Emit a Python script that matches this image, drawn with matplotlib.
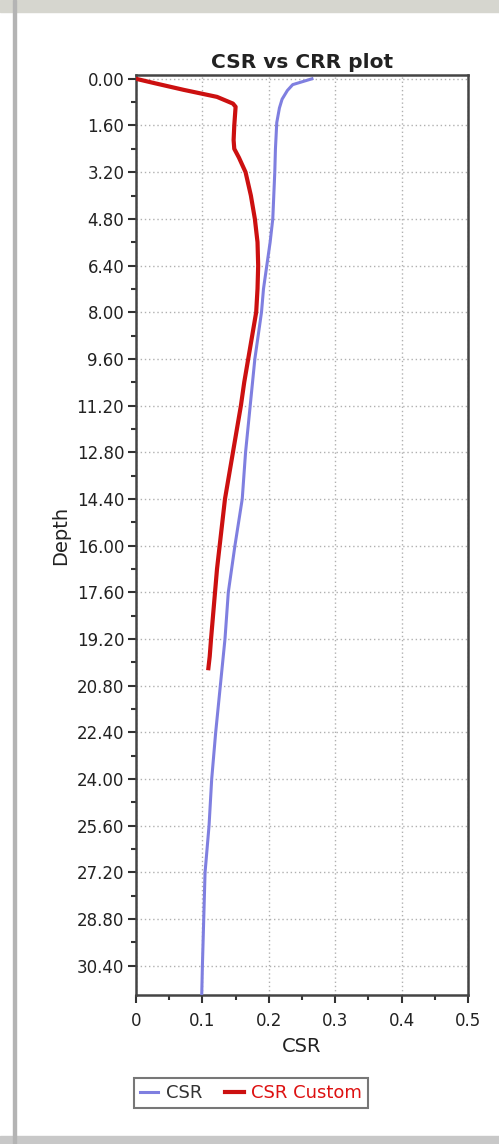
# -*- coding:utf-8 -*-

import numpy
import matplotlib
matplotlib.use("Agg")
import matplotlib.pyplot as plt
from matplotlib.patches import Rectangle

# Data
csr_depth = [0, 0.2, 0.4, 0.7, 1.0, 1.5, 2.4, 3.2, 4.8, 5.6, 6.4, 7.2, 8.0,
             9.6, 11.2, 12.8, 14.4, 16.0, 17.6, 19.2, 20.8, 22.4, 24.0, 25.6,
             27.2, 28.8, 30.4, 31.4]
csr_values = [0.265, 0.236, 0.228, 0.220, 0.216, 0.212, 0.210, 0.209, 0.206,
              0.202, 0.197, 0.192, 0.189, 0.179, 0.172, 0.165, 0.160, 0.149,
              0.139, 0.134, 0.127, 0.120, 0.114, 0.110, 0.104, 0.102, 0.100,
              0.099]

custom_depth = [0, 0.14, 0.38, 0.62, 0.85, 0.96, 1.6, 2.1, 2.4, 2.7, 3.2, 4.0,
                4.8, 5.6, 6.4, 7.2, 8.0, 8.8, 9.6, 10.4, 11.2, 12.0, 12.8,
                13.6, 14.4, 15.2, 16.0, 16.8, 17.6, 18.4, 19.2, 19.8, 20.2]
custom_values = [0, 0.026, 0.072, 0.122, 0.146, 0.150, 0.148, 0.147, 0.148,
                 0.155, 0.165, 0.173, 0.179, 0.183, 0.184, 0.183, 0.181, 0.175,
                 0.169, 0.163, 0.158, 0.152, 0.146, 0.140, 0.134, 0.130, 0.126,
                 0.122, 0.119, 0.116, 0.113, 0.111, 0.109]

depth_ticks = numpy.arange(0, 31.0, 1.6)
csr_ticks = [0, 0.1, 0.2, 0.3, 0.4, 0.5]
csr_tick_labels = ["0", "0.1", "0.2", "0.3", "0.4", "0.5"]

# Figure with window-like frame
fig = plt.figure(figsize=(4.99, 11.44), dpi=100, facecolor="white")
fig.patches.append(Rectangle((0, 1 - 12 / 1144), 1, 12 / 1144,
                             transform=fig.transFigure, color="#d6d6cf", zorder=0))
fig.patches.append(Rectangle((0, 0), 1, 8 / 1144,
                             transform=fig.transFigure, color="#c8c8c8", zorder=0))
fig.patches.append(Rectangle((13 / 499, 0), 3 / 499, 1,
                             transform=fig.transFigure, color="#b4b4b4", zorder=0))

ax = fig.add_axes([136 / 499, 1 - 995 / 1144, 332 / 499, 920 / 1144])

ax.plot(csr_values, csr_depth, color="#7f7fe0", lw=2.2, label="CSR", zorder=3)
ax.plot(custom_values, custom_depth, color="#cc1010", lw=3.0,
        label="CSR Custom", zorder=4)

ax.set_xlim(0, 0.5)
ax.set_ylim(31.4, -0.13)

ax.set_yticks(depth_ticks)
ax.set_yticklabels(["%.2f" % d for d in depth_ticks])
ax.set_yticks(depth_ticks[:-1] + 0.8, minor=True)
ax.set_xticks(csr_ticks)
ax.set_xticklabels(csr_tick_labels)
ax.set_xticks(numpy.array(csr_ticks[:-1]) + 0.05, minor=True)

ax.tick_params(which="major", length=6, width=1.5, color="#333333",
               labelsize=12, labelcolor="#222222")
ax.tick_params(axis="y", which="major", pad=2.5)
ax.tick_params(axis="x", which="major", pad=6)
ax.tick_params(which="minor", length=3.5, width=1.5, color="#333333")

ax.grid(True, which="major", color="#b0b0b0", linestyle=(0, (1, 2)), lw=1)
for s in ax.spines.values():
    s.set_color("#444444")
    s.set_linewidth(1.8)

ax.set_title("CSR vs CRR plot", fontsize=14.5, fontweight="bold",
             color="#222222", pad=5)
ax.set_xlabel("CSR", fontsize=14, color="#222222", labelpad=5)
ax.set_ylabel("Depth", fontsize=14, color="#222222", labelpad=5)

leg = fig.legend(loc="center", bbox_to_anchor=(251 / 499, 1 - 1093 / 1144),
                 ncol=2, fontsize=13, frameon=True, fancybox=False,
                 handlelength=1.0, handletextpad=0.4, columnspacing=1.3,
                 borderpad=0.35, edgecolor="#555555")
leg.get_frame().set_linewidth(1.5)
leg.get_texts()[0].set_color("#333333")
leg.get_texts()[1].set_color("#dd1111")

fig.savefig("out.png", dpi=100, facecolor="white")
